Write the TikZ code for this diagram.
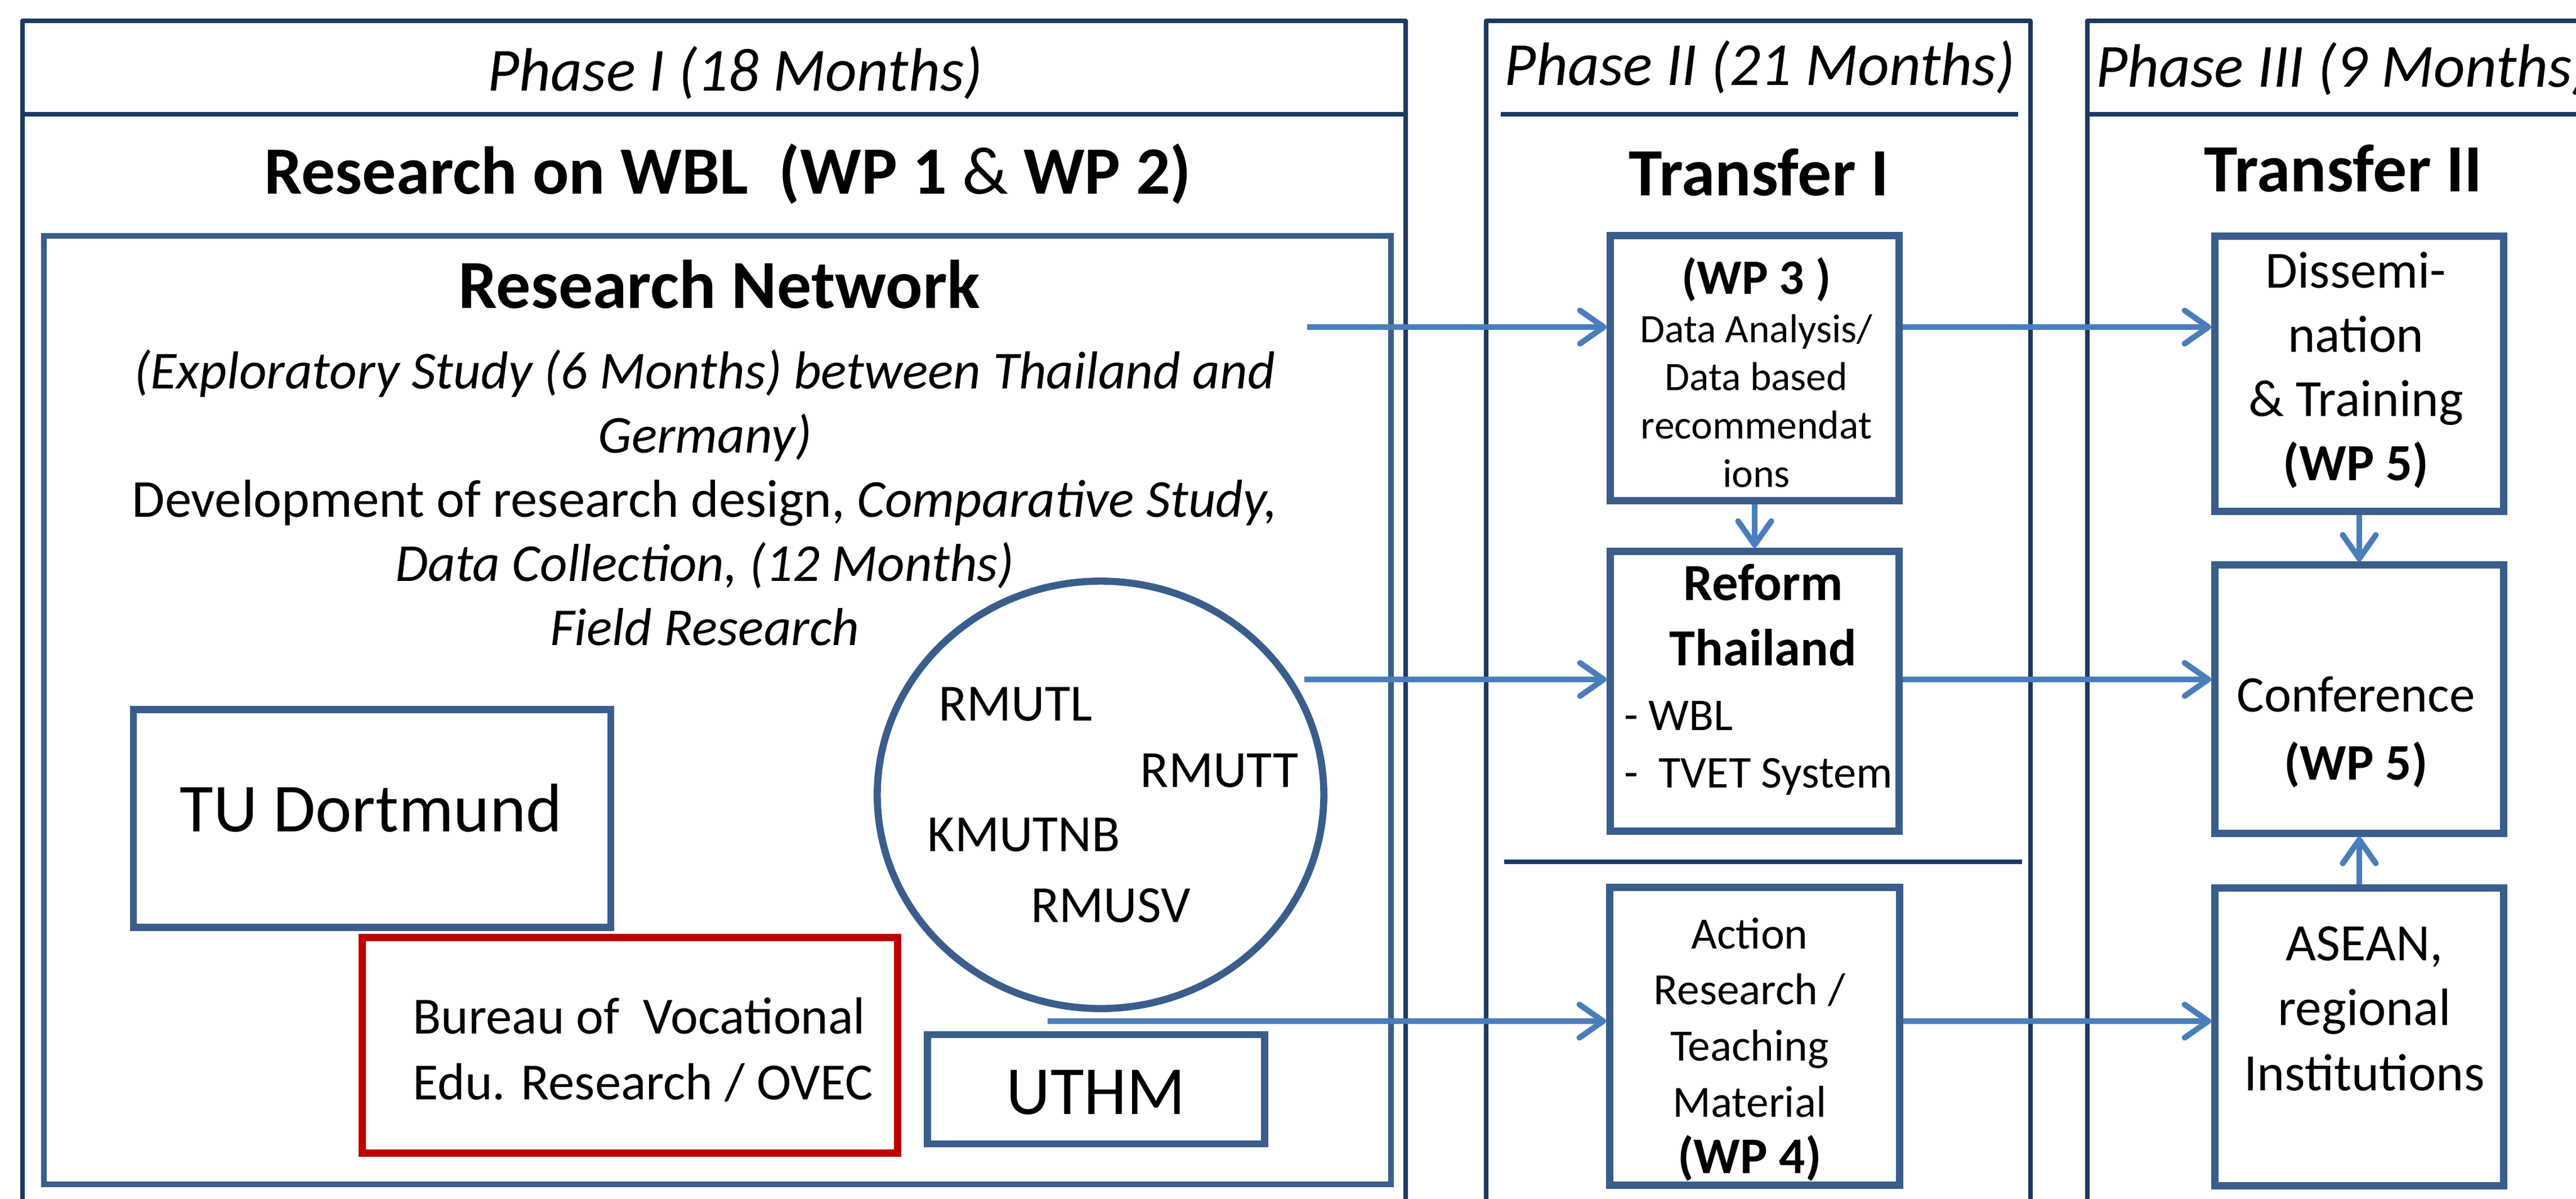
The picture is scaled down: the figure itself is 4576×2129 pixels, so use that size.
\documentclass[tikz,border=0pt]{standalone}
\usepackage{fontspec}
\setmainfont{Carlito}
\usepackage{tikz}
\usetikzlibrary{arrows.meta,shapes.geometric}

\definecolor{framenavy}{RGB}{28,57,98}
\definecolor{boxblue}{RGB}{58,94,140}
\definecolor{arrowblue}{RGB}{74,126,187}
\definecolor{boxred}{RGB}{192,0,0}

\begin{document}
\begin{tikzpicture}[x=0.005cm, y=-0.005cm,
	frame/.style={draw=framenavy, line width=1.1pt, line join=round},
	wbox/.style={shape=rectangle, draw=boxblue, line width=1.8pt, inner sep=0pt},
	txt/.style={inner sep=0pt, anchor=base, align=center},
	arr/.style={draw=arrowblue, line width=1.45pt, -{Straight Barb[length=6pt, width=8.4pt, round]}}]
	\useasboundingbox (0, 0) rectangle (4576, 2129);
	\clip (0, 0) rectangle (4576, 2129);

	\draw[frame] (40, 2200) -- (40, 37) -- (2497, 37) -- (2497, 2200);
	\draw[frame] (40, 203) -- (2497, 203);
	\draw[frame] (2640, 2200) -- (2640, 37) -- (3607, 37) -- (3607, 2200);
	\draw[frame] (2666, 203) -- (3585, 203);
	\draw[frame] (2672, 1531) -- (3592, 1531);
	\draw[frame] (3708, 2200) -- (3708, 37) -- (4650, 37);
	\draw[frame] (3708, 203) -- (4650, 203);
	\draw[draw=boxblue, line width=1.5pt] (78, 419) rectangle (2471, 2104);

	\node[txt, font=\fontsize{15.5}{18}\selectfont\itshape] (ph1) at (1306, 161) {Phase I (18 Months)};
	\node[txt, font=\fontsize{15.5}{18}\selectfont\itshape] (ph2) at (3126, 151) {Phase II (21 Months)};
	\node[txt, anchor=base west, font=\fontsize{15.5}{18}\selectfont\itshape] (ph3) at (3722, 154) {Phase III (9 Months)};

	\node[txt, font=\fontsize{17.1}{20}\selectfont] (research) at (1293, 344) {\textbf{Research on WBL\ \ (WP 1} \& \textbf{WP 2)}};
	\node[txt, font=\fontsize{17.1}{20}\selectfont\bfseries] (transfer1) at (3125, 347) {Transfer I};
	\node[txt, font=\fontsize{17.1}{20}\selectfont\bfseries] (transfer2) at (4163, 340) {Transfer II};

	\node[txt, font=\fontsize{17.4}{20}\selectfont\bfseries] (network) at (1278, 547) {Research Network};
	\node[txt, font=\fontsize{13.5}{16.2}\selectfont] (study) at (1252, 1146) {{\itshape (Exploratory Study (6 Months) between Thailand and}\\{\itshape Germany)}\\Development of research design, {\itshape Comparative Study,}\\{\itshape Data Collection, (12 Months)}\\{\itshape Field Research}};

	\node[wbox, minimum width=4.245cm, minimum height=1.935cm] (tud) at (661, 1454) {};
	\node[txt, font=\fontsize{17.4}{20}\selectfont] (tudtxt) at (659, 1477) {TU Dortmund};
	\node[wbox, draw=boxred, minimum width=4.76cm, minimum height=1.915cm] (bureau) at (1119, 1857) {};
	\node[txt, anchor=base west, align=left, font=\fontsize{13.2}{16.6}\selectfont] (bureautxt) at (732, 1953) {Bureau of~ Vocational\\Edu. Research / OVEC};
	\node[wbox, minimum width=3cm, minimum height=0.97cm] (uthm) at (1947, 1935) {};
	\node[txt, font=\fontsize{17.4}{20}\selectfont] (uthmtxt) at (1947, 1979) {UTHM};

	\node[shape=ellipse, draw=boxblue, line width=1.8pt, minimum width=3.97cm, minimum height=3.8cm] (unis) at (1955, 1412) {};
	\node[txt, font=\fontsize{13.2}{15}\selectfont] (rmutl) at (1804, 1280) {RMUTL};
	\node[txt, font=\fontsize{13.2}{15}\selectfont] (rmutt) at (2166, 1398) {RMUTT};
	\node[txt, font=\fontsize{13.2}{15}\selectfont] (kmutnb) at (1819, 1512) {KMUTNB};
	\node[txt, font=\fontsize{13.2}{15}\selectfont] (rmusv) at (1973, 1638) {RMUSV};

	\node[wbox, minimum width=2.57cm, minimum height=2.355cm] (wp3) at (3117, 654) {};
	\node[txt, font=\fontsize{10.2}{12.2}\selectfont] (wp3txt) at (3120, 865) {{\fontsize{12.5}{12.2}\selectfont\bfseries (WP 3 )}\\Data Analysis/\\Data based\\recommendat\\ions};
	\node[wbox, minimum width=2.57cm, minimum height=2.49cm] (reform) at (3117, 1228) {};
	\node[txt, font=\fontsize{13.2}{16.4}\selectfont\bfseries] (reformtxt) at (3132, 1182) {Reform\\Thailand};
	\node[txt, anchor=base west, align=left, font=\fontsize{11.5}{14.5}\selectfont] (reformlist) at (2884, 1399) {- WBL\\-\ \ TVET System};
	\node[wbox, minimum width=2.58cm, minimum height=2.645cm] (action) at (3117, 1841) {};
	\node[txt, font=\fontsize{11.3}{14.2}\selectfont] (actiontxt) at (3108, 2084) {Action\\Research /\\Teaching\\Material\\{\fontsize{13}{14.2}\selectfont\bfseries (WP 4)}};

	\node[wbox, minimum width=2.57cm, minimum height=2.45cm] (diss) at (4191, 664) {};
	\node[txt, font=\fontsize{13.2}{16.2}\selectfont] (disstxt) at (4185, 853) {Dissemi-\\nation\\\& Training\\{\bfseries (WP 5)}};
	\node[wbox, minimum width=2.57cm, minimum height=2.385cm] (conf) at (4191, 1242) {};
	\node[txt, font=\fontsize{13}{17.2}\selectfont] (conftxt) at (4185, 1385) {Conference\\{\bfseries (WP 5)}};
	\node[wbox, minimum width=2.57cm, minimum height=2.645cm] (asean) at (4191, 1842) {};
	\node[txt, font=\fontsize{13.3}{16.4}\selectfont] (aseantxt) at (4200, 1937) {ASEAN,\\regional\\Institutions};

	\coordinate (s1) at (2322, 581);
	\coordinate (s2) at (2317, 1207);
	\coordinate (s3) at (1861, 1814);

	\path (s1) edge[arr] (s1 -| wp3.west);
	\path (s1 -| wp3.east) edge[arr] (s1 -| diss.west);
	\path (s2) edge[arr] (s2 -| reform.west);
	\path (s2 -| reform.east) edge[arr] (s2 -| conf.west);
	\path (s3) edge[arr] (s3 -| action.west);
	\path (s3 -| action.east) edge[arr] (s3 -| asean.west);
	\path (wp3.south) edge[arr] (reform.north);
	\path (diss.south) edge[arr] (conf.north);
	\path (asean.north) edge[arr] (conf.south);
\end{tikzpicture}
\end{document}
